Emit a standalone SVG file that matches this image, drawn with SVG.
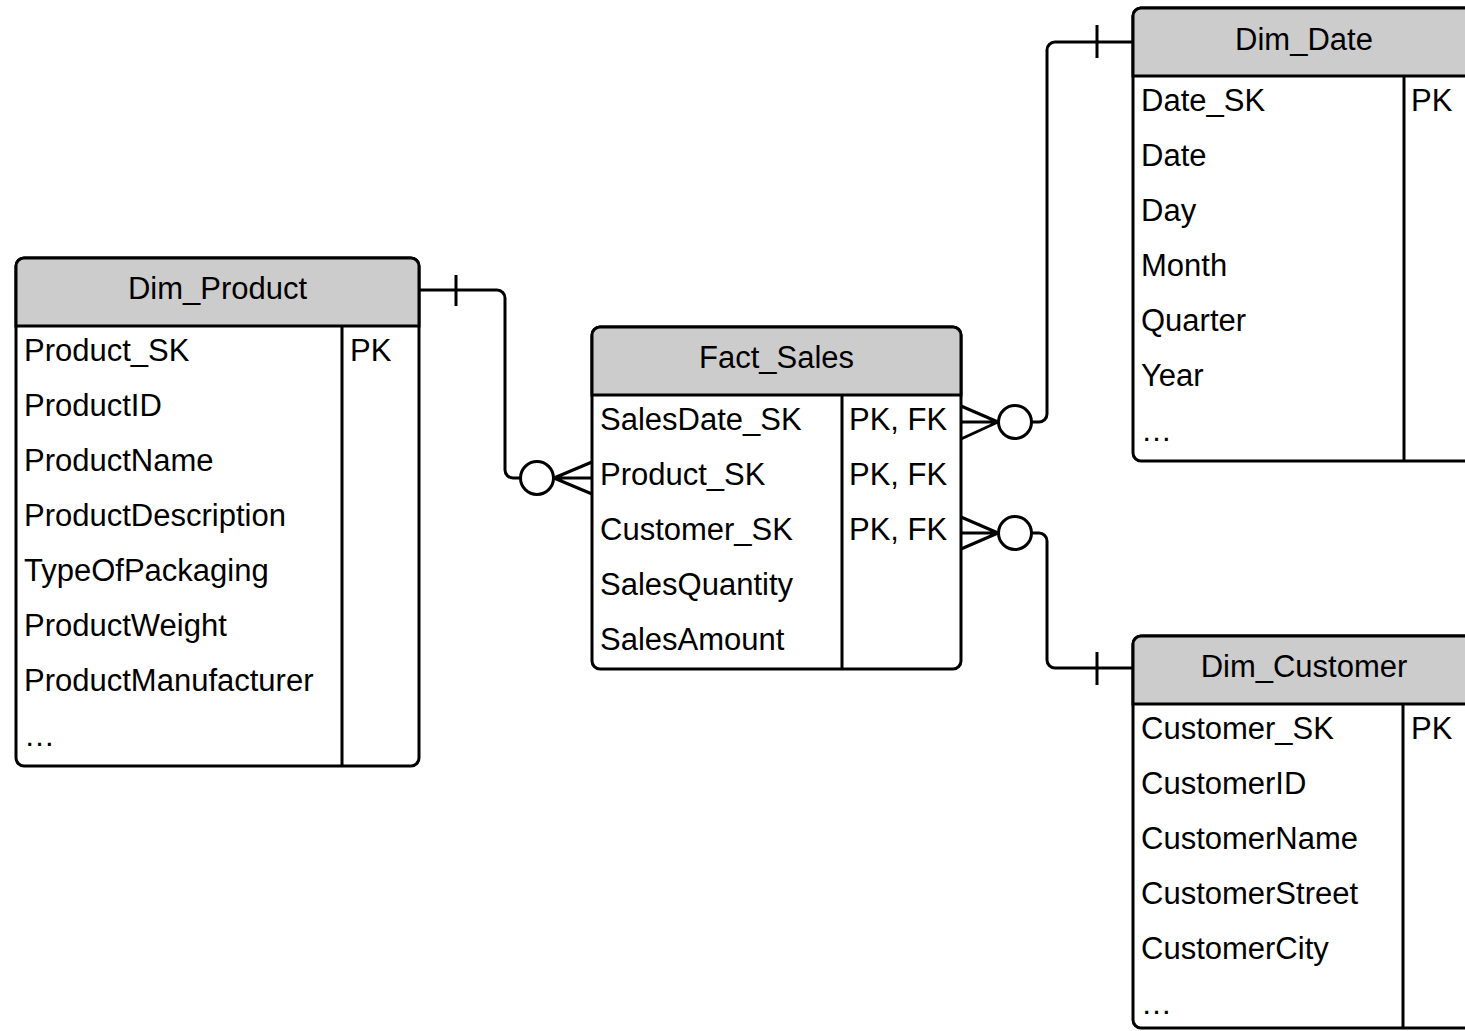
<svg xmlns="http://www.w3.org/2000/svg" width="1465" height="1031" viewBox="0 0 1465 1031">
  <style>
    .box { fill: #ffffff; stroke: #000000; stroke-width: 3; }
    .head { fill: #cccccc; stroke: #000000; stroke-width: 3; }
    .sep { fill: none; stroke: #000000; stroke-width: 3; }
    .title { font-family: "Liberation Sans", Arial, sans-serif; font-size: 31px; fill: #000000; text-anchor: middle; }
    .field { font-family: "Liberation Sans", Arial, sans-serif; font-size: 31px; fill: #000000; }
    .link { fill: none; stroke: #000000; stroke-width: 3; stroke-linejoin: round; }
    .ring { fill: #ffffff; stroke: #000000; stroke-width: 3; }
  </style>
  <rect width="1465" height="1031" fill="#ffffff"/>

  <!-- Dim_Product table -->
  <g id="dim_product">
    <rect class="box" x="16" y="258" width="403" height="508" rx="8"/>
    <path class="head" d="M16,326 V266 a8,8 0 0 1 8,-8 H411 a8,8 0 0 1 8,8 V326 Z"/>
    <line class="sep" x1="342" y1="326" x2="342" y2="766"/>
    <text class="title" x="217.5" y="299">Dim_Product</text>
    <text class="field" x="24" y="361">Product_SK</text>
    <text class="field" x="24" y="416">ProductID</text>
    <text class="field" x="24" y="471">ProductName</text>
    <text class="field" x="24" y="526">ProductDescription</text>
    <text class="field" x="24" y="581">TypeOfPackaging</text>
    <text class="field" x="24" y="636">ProductWeight</text>
    <text class="field" x="24" y="691">ProductManufacturer</text>
    <text class="field" x="24" y="746">…</text>
    <text class="field" x="350" y="361">PK</text>
  </g>

  <!-- Fact_Sales table -->
  <g id="fact_sales">
    <rect class="box" x="592" y="327" width="369" height="342" rx="8"/>
    <path class="head" d="M592,395 V335 a8,8 0 0 1 8,-8 H953 a8,8 0 0 1 8,8 V395 Z"/>
    <line class="sep" x1="842" y1="395" x2="842" y2="669"/>
    <text class="title" x="776.5" y="368">Fact_Sales</text>
    <text class="field" x="600" y="430">SalesDate_SK</text>
    <text class="field" x="600" y="485">Product_SK</text>
    <text class="field" x="600" y="540">Customer_SK</text>
    <text class="field" x="600" y="595">SalesQuantity</text>
    <text class="field" x="600" y="650">SalesAmount</text>
    <text class="field" x="849" y="430">PK, FK</text>
    <text class="field" x="849" y="485">PK, FK</text>
    <text class="field" x="849" y="540">PK, FK</text>
  </g>

  <!-- Dim_Date table -->
  <g id="dim_date">
    <rect class="box" x="1133" y="8" width="342" height="453" rx="8"/>
    <path class="head" d="M1133,76 V16 a8,8 0 0 1 8,-8 H1467 a8,8 0 0 1 8,8 V76 Z"/>
    <line class="sep" x1="1404" y1="76" x2="1404" y2="461"/>
    <text class="title" x="1304" y="50">Dim_Date</text>
    <text class="field" x="1141" y="111">Date_SK</text>
    <text class="field" x="1141" y="166">Date</text>
    <text class="field" x="1141" y="221">Day</text>
    <text class="field" x="1141" y="276">Month</text>
    <text class="field" x="1141" y="331">Quarter</text>
    <text class="field" x="1141" y="386">Year</text>
    <text class="field" x="1141" y="441">…</text>
    <text class="field" x="1411" y="111">PK</text>
  </g>

  <!-- Dim_Customer table -->
  <g id="dim_customer">
    <rect class="box" x="1133" y="636" width="342" height="392" rx="8"/>
    <path class="head" d="M1133,704 V644 a8,8 0 0 1 8,-8 H1467 a8,8 0 0 1 8,8 V704 Z"/>
    <line class="sep" x1="1403" y1="704" x2="1403" y2="1028"/>
    <text class="title" x="1304" y="677">Dim_Customer</text>
    <text class="field" x="1141" y="739">Customer_SK</text>
    <text class="field" x="1141" y="794">CustomerID</text>
    <text class="field" x="1141" y="849">CustomerName</text>
    <text class="field" x="1141" y="904">CustomerStreet</text>
    <text class="field" x="1141" y="959">CustomerCity</text>
    <text class="field" x="1141" y="1014">…</text>
    <text class="field" x="1411" y="739">PK</text>
  </g>

  <!-- Relationships: one (bar) to zero-or-many (ring + crow's foot) -->
  <g id="connectors">
    <!-- Dim_Product 1 : 0..N Fact_Sales -->
    <g id="rel_product">
      <path class="link" d="M419,290 H497 a8,8 0 0 1 8,8 V470 a8,8 0 0 0 8,8 H520.5"/>
      <line class="link" x1="456" y1="275" x2="456" y2="306"/>
      <circle class="ring" cx="537" cy="478" r="16.5"/>
      <path class="link" d="M592,462 L554,478 L592,494 M554,478 H592"/>
    </g>
    <!-- Dim_Date 1 : 0..N Fact_Sales -->
    <g id="rel_date">
      <path class="link" d="M1031.5,422 H1039 a8,8 0 0 0 8,-8 V50 a8,8 0 0 1 8,-8 H1133"/>
      <line class="link" x1="1097" y1="25" x2="1097" y2="58"/>
      <circle class="ring" cx="1015" cy="422" r="16.5"/>
      <path class="link" d="M961,406 L998,422 L961,439 M998,422 H961"/>
    </g>
    <!-- Dim_Customer 1 : 0..N Fact_Sales -->
    <g id="rel_customer">
      <path class="link" d="M1031.5,533 H1039 a8,8 0 0 1 8,8 V660 a8,8 0 0 0 8,8 H1133"/>
      <line class="link" x1="1097" y1="652" x2="1097" y2="685"/>
      <circle class="ring" cx="1015" cy="533" r="16.5"/>
      <path class="link" d="M961,517 L998,533 L961,549 M998,533 H961"/>
    </g>
  </g>
</svg>
